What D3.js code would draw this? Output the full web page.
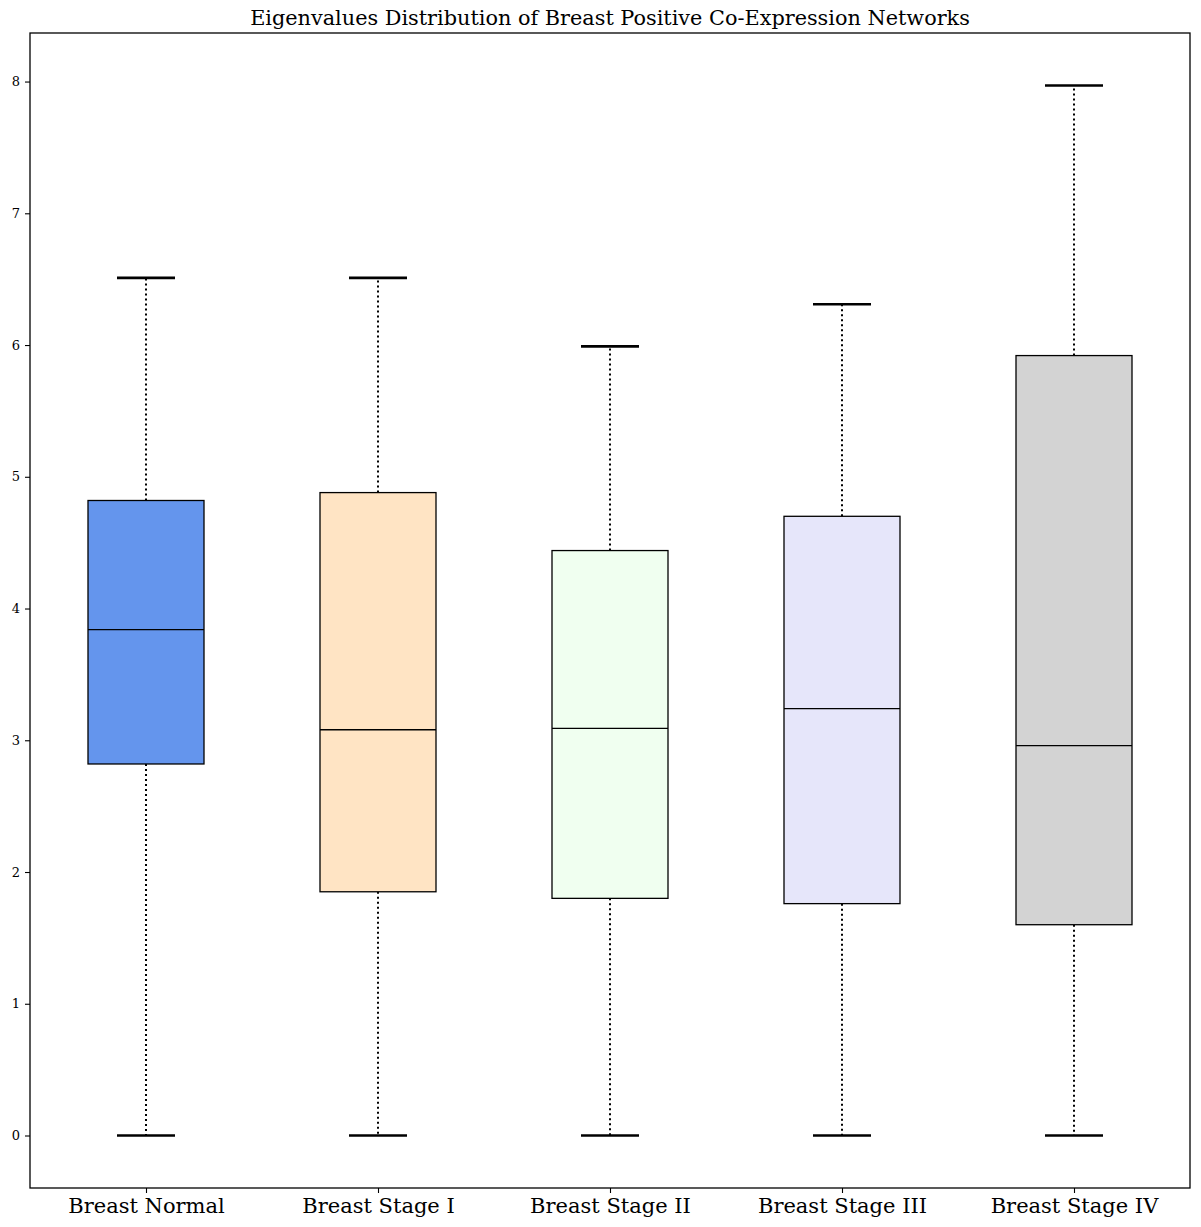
<!DOCTYPE html>
<html>
<head>
<meta charset="utf-8">
<script src="https://cdn.jsdelivr.net/npm/d3@7"></script>
<style>
  body { margin: 0; background: #fff; }
  text { font-family: "DejaVu Serif", serif; }
</style>
</head>
<body>
<svg id="chart" width="1201" height="1227"></svg>
<script>
// data
var groups = ["Breast Normal", "Breast Stage I", "Breast Stage II", "Breast Stage III", "Breast Stage IV"];
var whiskLow = [0, 0, 0, 0, 0];
var q1 = [2.82, 1.85, 1.80, 1.76, 1.60];
var median = [3.84, 3.08, 3.09, 3.24, 2.96];
var q3 = [4.82, 4.88, 4.44, 4.70, 5.92];
var whiskHigh = [6.51, 6.51, 5.99, 6.31, 7.97];
var fills = ["cornflowerblue", "bisque", "honeydew", "lavender", "lightgray"];
var yTicks = [0, 1, 2, 3, 4, 5, 6, 7, 8];

var svg = d3.select("#chart");
var plotL = 30, plotR = 1190, plotT = 33, plotB = 1188;

// x like matplotlib: positions 1..n, limits 0.5..n+0.5
var x = d3.scaleLinear().domain([0.5, groups.length + 0.5]).range([plotL, plotR]);
var pad = (7.97 - 0) * 0.05;
var y = d3.scaleLinear().domain([0 - pad, 7.97 + pad]).range([plotB, plotT]);

var boxes = groups.map(function(g, i) {
  return {name: g, pos: i + 1, lo: whiskLow[i], q1: q1[i], med: median[i], q3: q3[i], hi: whiskHigh[i], fill: fills[i]};
});

var boxW = x(1.25) - x(0.75);
var capW = x(1.125) - x(0.875);

var g = svg.append("g");

// whiskers (dotted)
g.selectAll("line.wlow").data(boxes).enter().append("line")
  .attr("x1", d => x(d.pos)).attr("x2", d => x(d.pos))
  .attr("y1", d => y(d.q1)).attr("y2", d => y(d.lo))
  .attr("stroke", "black").attr("stroke-width", 2)
  .attr("stroke-dasharray", "2,3");
g.selectAll("line.whi").data(boxes).enter().append("line")
  .attr("x1", d => x(d.pos)).attr("x2", d => x(d.pos))
  .attr("y1", d => y(d.q3)).attr("y2", d => y(d.hi))
  .attr("stroke", "black").attr("stroke-width", 2)
  .attr("stroke-dasharray", "2,3");

// caps
["lo", "hi"].forEach(function(k) {
  g.selectAll("line.cap" + k).data(boxes).enter().append("line")
    .attr("x1", d => x(d.pos) - capW / 2).attr("x2", d => x(d.pos) + capW / 2)
    .attr("y1", d => y(d[k])).attr("y2", d => y(d[k]))
    .attr("stroke", "black").attr("stroke-width", 2.6);
});

// boxes
g.selectAll("rect").data(boxes).enter().append("rect")
  .attr("x", d => x(d.pos) - boxW / 2)
  .attr("width", boxW)
  .attr("y", d => y(d.q3))
  .attr("height", d => y(d.q1) - y(d.q3))
  .attr("fill", d => d.fill)
  .attr("stroke", "black").attr("stroke-width", 1.3);

// medians
g.selectAll("line.med").data(boxes).enter().append("line")
  .attr("x1", d => x(d.pos) - boxW / 2).attr("x2", d => x(d.pos) + boxW / 2)
  .attr("y1", d => y(d.med)).attr("y2", d => y(d.med))
  .attr("stroke", "black").attr("stroke-width", 1.3);

// axes
var yAxis = d3.axisLeft(y).tickValues(yTicks).tickSize(5).tickPadding(5).tickFormat(d3.format("d"));
svg.append("g").attr("transform", "translate(" + plotL + ",0)").call(yAxis)
  .call(a => a.select(".domain").remove())
  .call(a => a.selectAll("text").style("font-size", "13px").style("font-family", "DejaVu Serif").attr("fill", "#000"))
  .call(a => a.selectAll("line").attr("stroke-width", 1.1));

var xAxis = d3.axisBottom(x).tickValues(boxes.map(d => d.pos)).tickSize(5).tickPadding(5)
  .tickFormat((d, i) => groups[i]);
svg.append("g").attr("transform", "translate(0," + plotB + ")").call(xAxis)
  .call(a => a.select(".domain").remove())
  .call(a => a.selectAll("text").style("font-size", "21px").style("font-family", "DejaVu Serif").attr("fill", "#000"))
  .call(a => a.selectAll("line").attr("stroke-width", 1.1));

// frame
svg.append("rect").attr("x", plotL).attr("y", plotT)
  .attr("width", plotR - plotL).attr("height", plotB - plotT)
  .attr("fill", "none").attr("stroke", "black").attr("stroke-width", 1.3);

// title
svg.append("text").attr("x", (plotL + plotR) / 2).attr("y", plotT - 8)
  .attr("text-anchor", "middle").style("font-size", "20.8px")
  .text("Eigenvalues Distribution of Breast Positive Co-Expression Networks");
</script>
</body>
</html>
